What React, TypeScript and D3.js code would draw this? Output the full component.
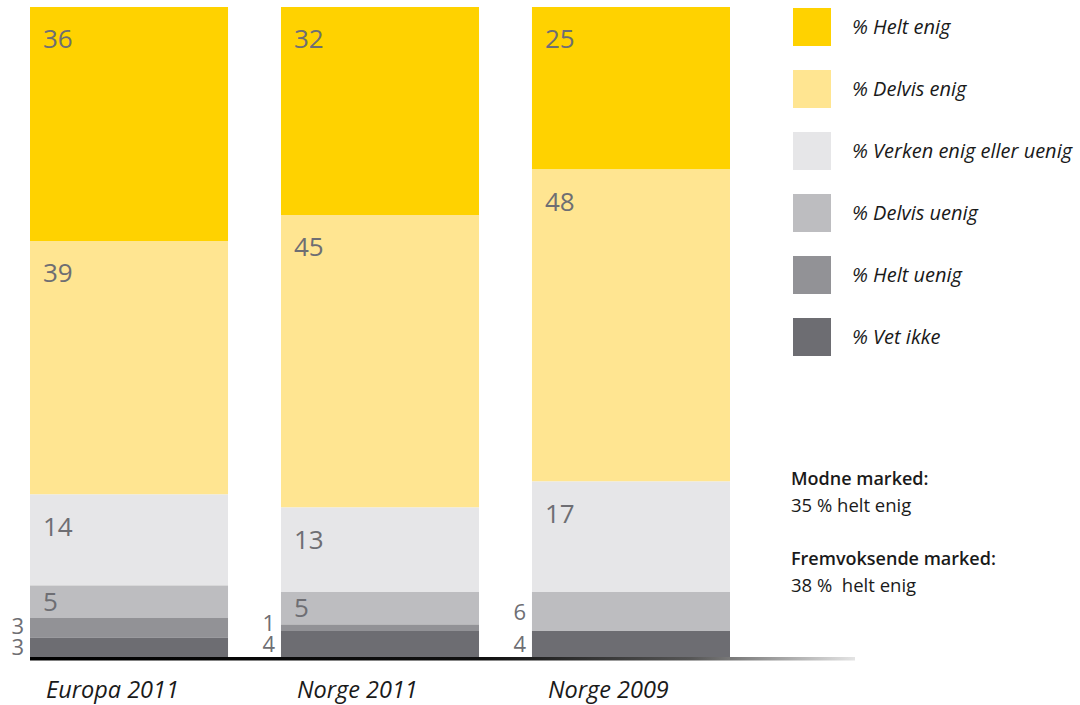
import React, { useEffect, useRef } from "react";
import * as d3 from "d3";

const groups = ["Europa 2011", "Norge 2011", "Norge 2009"];
const categories = [
  "% Helt enig",
  "% Delvis enig",
  "% Verken enig eller uenig",
  "% Delvis uenig",
  "% Helt uenig",
  "% Vet ikke",
];
const colors = ["#FFD200", "#FFE591", "#E6E6E8", "#BDBDC0", "#929296", "#6D6D72"];
// values per group, in category order
const europa2011 = [36, 39, 14, 5, 3, 3];
const norge2011 = [32, 45, 13, 5, 1, 4];
const norge2009 = [25, 48, 17, 6, 0, 4];
const seriesValues = [europa2011, norge2011, norge2009];
// category indices whose label sits left of the bar
const outsideLabels = [[4, 5], [4, 5], [3, 5]];

const notes = [
  { title: "Modne marked:", text: "35 % helt enig" },
  { title: "Fremvoksende marked:", text: "38 %  helt enig" },
];

const W = 1080;
const H = 705;

const App = () => {
  const svgRef = useRef<SVGSVGElement>(null);

  useEffect(() => {
    const svg = d3.select(svgRef.current);
    svg.selectAll("*").remove();

    const x = d3.scaleBand().domain(groups).range([30, 730]).paddingInner(0.211).paddingOuter(0);
    const y = d3.scaleLinear().domain([0, 100]).range([657, 7]);

    const defs = svg.append("defs");
    const grad = defs
      .append("linearGradient")
      .attr("id", "baseGrad")
      .attr("x1", "0%")
      .attr("x2", "100%");
    grad.append("stop").attr("offset", "0%").attr("stop-color", "#000");
    grad.append("stop").attr("offset", "55%").attr("stop-color", "#111");
    grad.append("stop").attr("offset", "80%").attr("stop-color", "#555");
    grad.append("stop").attr("offset", "100%").attr("stop-color", "#e4e4e4");

    const labelColor = "#6e6e73";
    const numFont = "'Open Sans', sans-serif";

    groups.forEach((g, gi) => {
      const vals = seriesValues[gi];
      const row: any = {};
      vals.forEach((v, i) => (row[i] = v));
      const stacked = d3
        .stack<any>()
        .keys(categories.map((_, i) => String(i)))
        .order(d3.stackOrderReverse)([row]);
      const bx = x(g)!;
      const bw = x.bandwidth();
      const gEl = svg.append("g");
      const outside: { y: number; v: number }[] = [];

      stacked.forEach((s: any) => {
        const i = +s.key;
        const [y0, y1] = s[0];
        const v = vals[i];
        if (v <= 0) return;
        const top = y(y1);
        const bot = y(y0);
        gEl
          .append("rect")
          .attr("x", bx)
          .attr("y", top)
          .attr("width", bw)
          .attr("height", bot - top)
          .attr("fill", colors[i]);
        if (!outsideLabels[gi].includes(i)) {
          const cy = Math.min(top + 32, (top + bot) / 2);
          gEl
            .append("text")
            .attr("x", bx + 13)
            .attr("y", cy + 9)
            .attr("fill", labelColor)
            .style("font-family", numFont)
            .style("font-size", "26px")
            .text(v);
        } else {
          outside.push({ y: (top + bot) / 2, v });
        }
      });

      // outside labels, bottom up, avoid overlap
      outside.sort((a, b) => b.y - a.y);
      for (let k = 1; k < outside.length; k++) {
        if (outside[k - 1].y - outside[k].y < 21) outside[k].y = outside[k - 1].y - 21;
      }
      outside.forEach((o) => {
        gEl
          .append("text")
          .attr("x", bx - 6)
          .attr("y", o.y + 8)
          .attr("text-anchor", "end")
          .attr("fill", labelColor)
          .style("font-family", numFont)
          .style("font-size", "22px")
          .text(o.v);
      });

      svg
        .append("text")
        .attr("x", bx + 16)
        .attr("y", 698)
        .attr("fill", "#1a1a1a")
        .style("font-family", numFont)
        .style("font-style", "italic")
        .style("font-size", "23.5px")
        .text(g);
    });

    // baseline
    svg
      .append("rect")
      .attr("x", 30)
      .attr("y", 657)
      .attr("width", 825)
      .attr("height", 3.5)
      .attr("fill", "url(#baseGrad)");

    // legend
    const legend = svg.append("g").attr("transform", "translate(793,8)");
    categories.forEach((c, i) => {
      legend
        .append("rect")
        .attr("x", 0)
        .attr("y", i * 62)
        .attr("width", 38)
        .attr("height", 38)
        .attr("fill", colors[i]);
      legend
        .append("text")
        .attr("x", 59)
        .attr("y", i * 62 + 26)
        .attr("fill", "#1a1a1a")
        .style("font-family", numFont)
        .style("font-style", "italic")
        .style("font-size", "20px")
        .text(c);
    });

    // notes
    notes.forEach((n, i) => {
      const ny = 485 + i * 80;
      svg
        .append("text")
        .attr("x", 791)
        .attr("y", ny)
        .attr("fill", "#1a1a1a")
        .style("font-family", numFont)
        .style("font-weight", "600")
        .style("font-size", "18px")
        .text(n.title);
      svg
        .append("text")
        .attr("x", 791)
        .attr("y", ny + 27)
        .attr("fill", "#1a1a1a")
        .style("font-family", numFont)
        .style("font-size", "18.5px")
        .style("white-space", "pre")
        .text(n.text);
    });
  }, []);

  return (
    <svg
      ref={svgRef}
      width={W}
      height={H}
      style={{ position: "absolute", left: 0, top: 0, background: "#fff" }}
    />
  );
};

export default App;
